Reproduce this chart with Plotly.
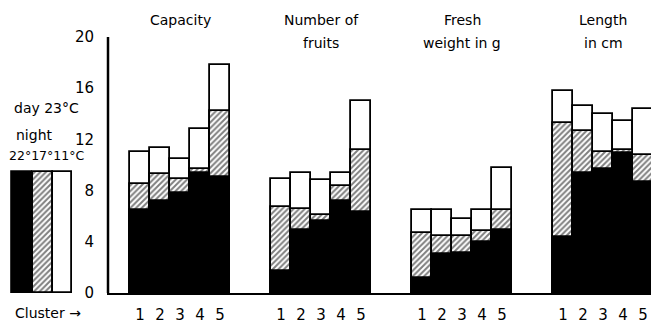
import plotly.graph_objects as go

# ---- data ----
clusters = ["1", "2", "3", "4", "5"]
traits = [["Capacity"], ["Number of", "fruits"], ["Fresh", "weight in g"], ["Length", "in cm"]]
# night temperature 11 °C (white), 17 °C (hatched), 22 °C (black); day 23 °C
night11 = [
    [11.0, 11.3, 10.5, 12.8, 17.8],
    [8.9, 9.35, 8.8, 9.35, 15.0],
    [6.5, 6.5, 5.8, 6.5, 9.8],
    [15.8, 14.6, 14.0, 13.4, 14.4],
]
night17 = [
    [8.5, 9.3, 8.9, 9.7, 14.2],
    [6.7, 6.6, 6.1, 8.35, 11.2],
    [4.7, 4.45, 4.45, 4.85, 6.5],
    [13.25, 12.65, 11.0, 11.2, 10.8],
]
night22 = [
    [6.5, 7.2, 7.8, 9.35, 9.1],
    [1.7, 4.9, 5.65, 7.2, 6.35],
    [1.15, 3.05, 3.15, 4.0, 4.9],
    [4.4, 9.35, 9.65, 10.9, 8.7],
]
key_labels = ["22°", "17°", "11°"]
key_values = [9.45, 9.45, 9.45]
y_ticks = [0, 4, 8, 12, 16, 20]

# ---- layout helpers ----
W, H = 651, 325
ML, MT, MB = 0, 37, 32
AX0 = 109  # y-axis position in px
GROUP_START = 1.05
GROUP_STEP = 7.05
XMAX = (W - AX0) / 20.0

xs, w_vals, h_vals, b_vals, tickvals, ticktext = [], [], [], [], [], []
for g in range(len(traits)):
    for i, c in enumerate(clusters):
        x = GROUP_START + g * GROUP_STEP + i + 0.5
        xs.append(x)
        w_vals.append(night11[g][i])
        h_vals.append(night17[g][i])
        b_vals.append(night22[g][i])
        tickvals.append(x)
        ticktext.append(c)

line = dict(color="black", width=1.8)
hatch = dict(shape="/", fgcolor="black", bgcolor="white", size=4, solidity=0.5)
fig = go.Figure()
fig.add_trace(go.Bar(x=xs, y=w_vals, width=1.0, marker=dict(color="white", line=line), showlegend=False))
fig.add_trace(go.Bar(x=xs, y=h_vals, width=1.0,
                     marker=dict(color="white", line=line, pattern=hatch), showlegend=False))
fig.add_trace(go.Bar(x=xs, y=b_vals, width=1.0, marker=dict(color="black", line=line), showlegend=False))

# key bars at the left (own axes, same value scale)
key_x = [22, 42.5, 62.5]
fig.add_trace(go.Bar(x=key_x[:1], y=key_values[:1], width=20, xaxis="x2", yaxis="y2",
                     marker=dict(color="black", line=line), showlegend=False))
fig.add_trace(go.Bar(x=key_x[1:2], y=key_values[1:2], width=20, xaxis="x2", yaxis="y2",
                     marker=dict(color="white", line=line, pattern=hatch), showlegend=False))
fig.add_trace(go.Bar(x=key_x[2:], y=key_values[2:], width=19, xaxis="x2", yaxis="y2",
                     marker=dict(color="white", line=line), showlegend=False))

font = dict(family="DejaVu Sans, sans-serif", size=14, color="black")

fig.update_layout(
    width=W, height=H,
    margin=dict(l=ML, r=0, t=MT, b=MB),
    paper_bgcolor="white", plot_bgcolor="rgba(0,0,0,0)",
    barmode="overlay", bargap=0,
    font=font,
    xaxis=dict(domain=[AX0 / W, 1], range=[0, XMAX], showgrid=False, zeroline=False,
               showline=True, linecolor="black", linewidth=2, anchor="y",
               tickmode="array", tickvals=tickvals, ticktext=ticktext,
               ticks="outside", ticklen=7, tickcolor="rgba(0,0,0,0)",
               tickfont=dict(family="DejaVu Sans, sans-serif", size=15, color="black")),
    yaxis=dict(range=[0, 20], showgrid=False, zeroline=False, showline=True,
               linecolor="black", linewidth=2, anchor="x",
               tickmode="array", tickvals=y_ticks, ticktext=[str(v) for v in y_ticks],
               ticks="outside", ticklen=10, tickcolor="rgba(0,0,0,0)",
               tickfont=dict(family="DejaVu Sans, sans-serif", size=15, color="black")),
    xaxis2=dict(domain=[0, 100 / W], range=[0, 100], visible=False, anchor="y2"),
    yaxis2=dict(domain=[0, 1], range=[0, 20], visible=False, anchor="x2"),
    shapes=[dict(type="line", xref="paper", yref="y", x0=(AX0 - 1) / W, x1=(AX0 - 1) / W,
                 y0=0, y1=max(y_ticks), line=dict(color="black", width=2.5), layer="above")],
)

plot_h = H - MT - MB


def py(px):
    return (H - MB - px) / plot_h


anns = []
for g, lines in enumerate(traits):
    xc = GROUP_START + g * GROUP_STEP + len(clusters) / 2
    for k, t in enumerate(lines):
        anns.append(dict(x=xc, xref="x", y=py(20 + 23 * k), yref="paper", text=t,
                         showarrow=False, xanchor="center", yanchor="middle", font=font))

anns.append(dict(x=48 / W, xref="paper", y=py(313), yref="paper", text="Cluster →",
                 showarrow=False, xanchor="center", yanchor="middle", font=font))
anns.append(dict(x=46 / W, xref="paper", y=py(108), yref="paper", text="day 23°C",
                 showarrow=False, xanchor="center", yanchor="middle", font=font))
anns.append(dict(x=34 / W, xref="paper", y=py(135), yref="paper", text="night",
                 showarrow=False, xanchor="center", yanchor="middle", font=font))
anns.append(dict(x=46 / W, xref="paper", y=py(155), yref="paper", text="".join(key_labels) + "C",
                 showarrow=False, xanchor="center", yanchor="middle",
                 font=dict(family="DejaVu Sans, sans-serif", size=12.5, color="black")))
fig.update_layout(annotations=anns)

fig.write_html("out.html")
